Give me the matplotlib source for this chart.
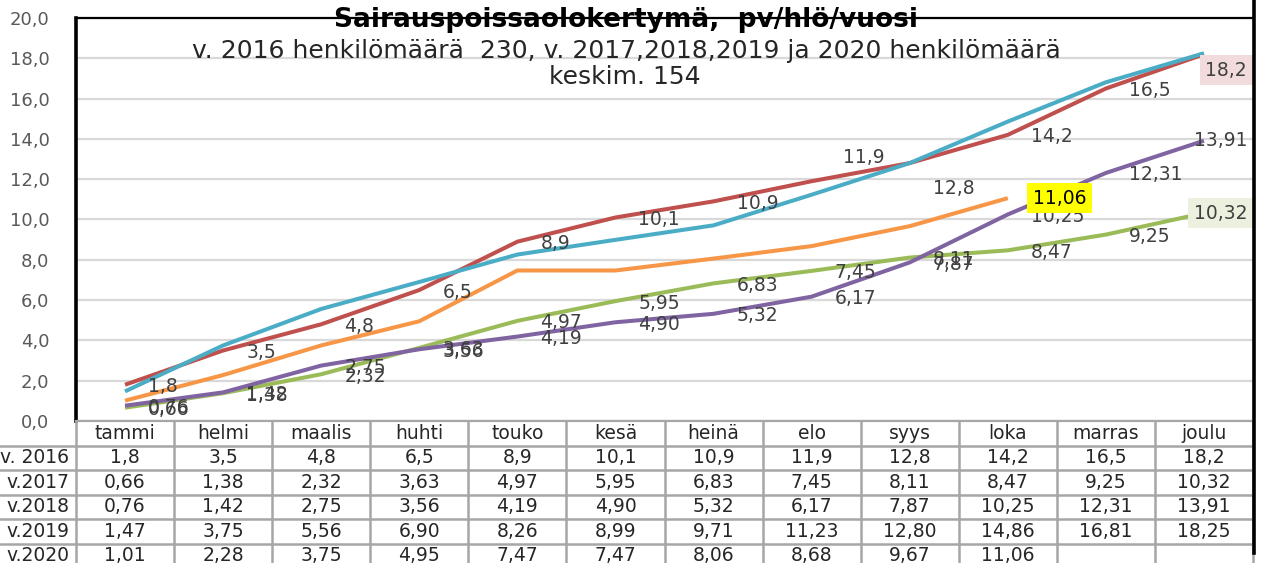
import matplotlib
import matplotlib.pyplot as plt
import numpy as np

matplotlib.use("Agg")

# --- data -----------------------------------------------------------------
months = ["tammi", "helmi", "maalis", "huhti", "touko", "kesä",
          "heinä", "elo", "syys", "loka", "marras", "joulu"]
row_labels = ["v. 2016", "v.2017", "v.2018", "v.2019", "v.2020"]

v2016 = [1.8, 3.5, 4.8, 6.5, 8.9, 10.1, 10.9, 11.9, 12.8, 14.2, 16.5, 18.2]
v2017 = [0.66, 1.38, 2.32, 3.63, 4.97, 5.95, 6.83, 7.45, 8.11, 8.47, 9.25, 10.32]
v2018 = [0.76, 1.42, 2.75, 3.56, 4.19, 4.90, 5.32, 6.17, 7.87, 10.25, 12.31, 13.91]
v2019 = [1.47, 3.75, 5.56, 6.90, 8.26, 8.99, 9.71, 11.23, 12.80, 14.86, 16.81, 18.25]
v2020 = [1.01, 2.28, 3.75, 4.95, 7.47, 7.47, 8.06, 8.68, 9.67, 11.06]

series = [v2016, v2017, v2018, v2019, v2020]
decimals = [1, 2, 2, 2, 2]
colors = ["#C0504D", "#9BBB59", "#8064A2", "#4BACC6", "#F79646"]

title = "Sairauspoissaolokertymä,  pv/hlö/vuosi"
subtitle = "v. 2016 henkilömäärä  230, v. 2017,2018,2019 ja 2020 henkilömäärä"
subtitle2 = "keskim. 154"

# --- layout (pixels) ------------------------------------------------------
W, H = 1264, 563
PX_L, PX_R, PX_T, PX_B = 76, 1253, 18, 421
ROW_H = 24.5
COL_W = (PX_R - PX_L) / 12
FS = 13.5


def fmt(v, d):
    return f"{v:.{d}f}".replace(".", ",")


fig = plt.figure(figsize=(W / 100, H / 100), dpi=100)
ax = fig.add_axes([PX_L / W, 1 - PX_B / H, (PX_R - PX_L) / W, (PX_B - PX_T) / H])

x = np.arange(12) + 0.5
ax.set_xlim(0, 12)
ax.set_ylim(0, 20)
yt = np.arange(0, 21, 2)
ax.set_yticks(yt)
ax.set_yticklabels([fmt(t, 1) for t in yt])
ax.tick_params(axis="y", length=0, pad=19, labelsize=13, labelcolor="#595959")
ax.set_xticks([])
ax.grid(axis="y", color="#D9D9D9", lw=1.6)
ax.set_axisbelow(True)
ax.spines["left"].set_linewidth(2.6)
ax.spines["left"].set_color("black")
ax.spines["top"].set_linewidth(1.6)
ax.spines["top"].set_color("black")
ax.spines["right"].set_visible(False)
ax.spines["bottom"].set_color("#A6A6A6")
ax.spines["bottom"].set_linewidth(1.6)

for i, (vals, c) in enumerate(zip(series, colors)):
    ax.plot(x[:len(vals)], vals, color=c, lw=2.9, zorder=3 + i,
            solid_capstyle="butt", solid_joinstyle="round")

# data labels (right of point), a couple moved by hand as in the original
nudge = {(0, 7): (8, 26), (0, 8): (0, -23)}
for s in [0, 1, 2]:
    vals = series[s]
    for j, v in enumerate(vals[:-1]):
        dx, dy = nudge.get((s, j), (0, 0))
        ax.annotate(fmt(v, decimals[s]), xy=(x[j], v), xytext=(23 + dx, -2 + dy),
                    textcoords="offset pixels", ha="left", va="center",
                    fontsize=FS, color="#404040", zorder=10)

# last-month labels, right aligned inside plot area
last_box = {0: "#F2DCDB", 1: "#EBF1DE", 2: None}
last_dy = {0: -16, 1: 0, 2: 0}
for s, fc in last_box.items():
    v = series[s][-1]
    bbox = dict(boxstyle="square,pad=0.3", fc=fc, ec="none") if fc else None
    ax.annotate(fmt(v, decimals[s]), xy=(1, v), xycoords=ax.get_yaxis_transform(),
                xytext=(-6, last_dy[s]), textcoords="offset pixels",
                ha="right", va="center", fontsize=FS, color="#404040",
                bbox=bbox, zorder=10, annotation_clip=False)

# 2020 only the latest value, highlighted
ax.annotate(fmt(v2020[-1], 2), xy=(x[len(v2020) - 1], v2020[-1]), xytext=(25, 0),
            textcoords="offset pixels", ha="left", va="center", fontsize=FS,
            color="black", bbox=dict(boxstyle="square,pad=0.3", fc="#FFFF00", ec="none"),
            zorder=10)

# --- data table below the plot --------------------------------------------
tab = fig.add_axes([0, 0, 1, 1], facecolor="none")
tab.set_xlim(0, W)
tab.set_ylim(H, 0)
tab.axis("off")

grid_kw = dict(color="#A6A6A6", lw=1.8)
for k in range(13):
    xk = PX_L + COL_W * k
    tab.plot([xk, xk], [PX_B, H], **grid_kw)
for r in range(1, 6):
    yr = PX_B + ROW_H * r
    tab.plot([0, PX_R], [yr, yr], **grid_kw)

for k, m in enumerate(months):
    tab.text(PX_L + COL_W * (k + 0.5), PX_B + ROW_H * 0.5, m, ha="center",
             va="center", fontsize=FS, color="#262626")

for r, (lab, vals, d) in enumerate(zip(row_labels, series, decimals)):
    yc = PX_B + ROW_H * (r + 1.5)
    tab.text(PX_L - 7, yc, lab, ha="right", va="center", fontsize=FS, color="#262626")
    for k, v in enumerate(vals):
        tab.text(PX_L + COL_W * (k + 0.5), yc, fmt(v, d), ha="center",
                 va="center", fontsize=FS, color="#262626")

# right outer border of the chart
tab.plot([PX_R + 1, PX_R + 1], [0, 553], color="black", lw=2.6)

# --- titles ---------------------------------------------------------------
fig.text(626 / W, 1 - 20 / H, title, ha="center", va="center",
         fontsize=19, fontweight="bold", color="black")
fig.text(626 / W, 1 - 51 / H, subtitle, ha="center", va="center",
         fontsize=18, color="#262626")
fig.text(625 / W, 1 - 77 / H, subtitle2, ha="center", va="center",
         fontsize=18, color="#262626")

fig.savefig("out.png", dpi=100)
plt.close(fig)
